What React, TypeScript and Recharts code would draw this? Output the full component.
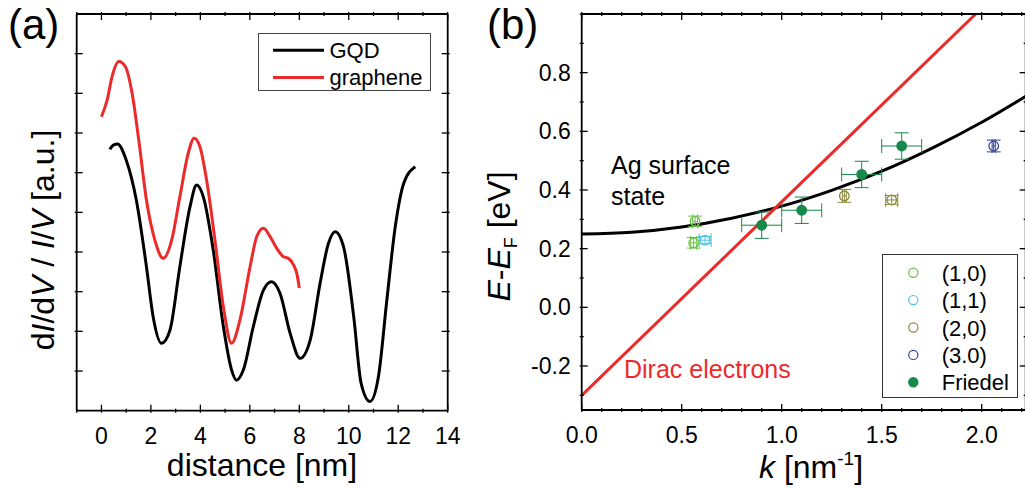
import React from "react";
import { LineChart, ComposedChart, Line, Scatter, XAxis, YAxis, ErrorBar, Legend } from "recharts";

const FONT = "'Liberation Sans', Arial, Helvetica, sans-serif";
const RED = "#ec2a2a";

// (a) dI/dV / I/V profiles
const gqdDistance = [0.34, 0.5, 0.65, 1.0, 1.41, 1.82, 2.09, 2.43, 2.77, 3.17, 3.58, 3.85, 4.12, 4.52, 4.93, 5.26, 5.46, 5.74, 6.14, 6.55, 6.88, 7.22, 7.63, 8.03, 8.44, 8.84, 9.18, 9.45, 9.79, 10.2, 10.5, 10.86, 11.2, 11.54, 11.88, 12.22, 12.69];
const gqdSignal = [6.59, 6.7, 6.72, 6.32, 5.31, 3.63, 2.37, 1.7, 2.03, 3.63, 5.14, 5.69, 5.39, 4.05, 2.12, 1.03, 0.77, 1.03, 2.12, 3.04, 3.25, 2.96, 1.95, 1.32, 1.78, 3.21, 4.22, 4.51, 4.13, 2.37, 0.69, 0.23, 0.86, 2.79, 4.64, 5.73, 6.15];
const grapheneDistance = [0, 0.23, 0.43, 0.7, 0.97, 1.24, 1.51, 1.82, 2.16, 2.5, 2.84, 3.17, 3.51, 3.75, 3.98, 4.25, 4.59, 4.93, 5.26, 5.6, 6.01, 6.28, 6.55, 6.82, 7.09, 7.36, 7.56, 7.77, 7.9, 8.0];
const grapheneSignal = [7.41, 7.83, 8.42, 8.8, 8.67, 8.0, 6.82, 5.31, 4.3, 3.84, 4.3, 5.39, 6.49, 6.87, 6.66, 5.82, 4.3, 2.62, 1.7, 2.29, 3.63, 4.39, 4.6, 4.39, 4.09, 3.88, 3.84, 3.67, 3.46, 3.09];

const distanceTicks = [-1, 0, 1, 2, 3, 4, 5, 6, 7, 8, 9, 10, 11, 12, 13, 14];
const distanceLabels = [0, 2, 4, 6, 8, 10, 12, 14];
const signalTicks = [1, 2, 3, 4, 5, 6, 7, 8, 9];

// (b) dispersion
const agK = [0, 0.25, 0.5, 0.75, 1.0, 1.25, 1.5, 1.75, 2.0, 2.25];
const agEnergy = [0.25, 0.256, 0.274, 0.304, 0.345, 0.399, 0.464, 0.542, 0.631, 0.732];
const diracK = [0, 1.97];
const diracEnergy = [-0.3, 1.0];

const order10K = [0.567, 0.56];
const order10E = [0.293, 0.22];
const order10Dk = [0.012, 0.015];
const order10De = [0.018, 0.018];
const order11K = [0.617];
const order11E = [0.229];
const order11Dk = [0.03];
const order11De = [0.012];
const order20K = [1.313, 1.55];
const order20E = [0.38, 0.366];
const order20Dk = [0.01, 0.03];
const order20De = [0.022, 0.015];
const order30K = [2.06];
const order30E = [0.55];
const order30Dk = [0.008];
const order30De = [0.02];
const friedelK = [0.9, 1.1, 1.4, 1.6];
const friedelE = [0.28, 0.331, 0.453, 0.55];
const friedelDk = [0.1, 0.1, 0.1, 0.1];
const friedelDe = [0.045, 0.045, 0.045, 0.045];

const kTicks = [0, 0.1, 0.2, 0.3, 0.4, 0.5, 0.6, 0.7, 0.8, 0.9, 1.0, 1.1, 1.2, 1.3, 1.4, 1.5, 1.6, 1.7, 1.8, 1.9, 2.0, 2.1, 2.2];
const kLabels = [0, 0.5, 1.0, 1.5, 2.0];
const energyTicks = [-0.3, -0.2, -0.1, 0, 0.1, 0.2, 0.3, 0.4, 0.5, 0.6, 0.7, 0.8, 0.9, 1.0];
const energyMajors = [-0.2, 0, 0.2, 0.4, 0.6, 0.8, 1.0];
const energyLabels = [-0.2, 0, 0.2, 0.4, 0.6, 0.8];

const gqdData = gqdDistance.map((d, i) => ({ d, v: gqdSignal[i] }));
const grapheneData = grapheneDistance.map((d, i) => ({ d, v: grapheneSignal[i] }));
const agData = agK.map((k, i) => ({ k, e: agEnergy[i] }));
const diracData = diracK.map((k, i) => ({ k, e: diracEnergy[i] }));

const toPoints = (k: number[], e: number[], dk: number[], de: number[]) =>
    k.map((kk, i) => ({ k: kk, e: e[i], dk: dk[i], de: de[i] }));

const orderSeries = [
    { name: "(1,0)", color: "#6cbf47", filled: false, data: toPoints(order10K, order10E, order10Dk, order10De) },
    { name: "(1,1)", color: "#45c3e6", filled: false, data: toPoints(order11K, order11E, order11Dk, order11De) },
    { name: "(2,0)", color: "#8b8a3a", filled: false, data: toPoints(order20K, order20E, order20Dk, order20De) },
    { name: "(3.0)", color: "#35449a", filled: false, data: toPoints(order30K, order30E, order30Dk, order30De) },
    { name: "Friedel", color: "#17894a", filled: true, data: toPoints(friedelK, friedelE, friedelDk, friedelDe) },
];

const has = (list: number[], v: number) => list.some((m) => Math.abs(m - v) < 1e-6);
const frame = { stroke: "#000", strokeWidth: 1.8 };

// ticks point into the plot, labels sit outside
function makeTick(side: string, majors: number[], labels: number[], digits: number) {
    return (props: any) => {
        const { x, y, payload } = props;
        const v = payload.value;
        const len = has(majors, v) ? 8 : 4;
        let x2 = x;
        let y2 = y;
        if (side === "bottom") y2 = y - len;
        if (side === "top") y2 = y + len;
        if (side === "left") x2 = x + len;
        if (side === "right") x2 = x - len;
        const label = has(labels, v);
        return (
            <g>
                <line x1={x} y1={y} x2={x2} y2={y2} stroke="#000" strokeWidth={1.3} />
                {label && side === "bottom" && (
                    <text x={x} y={y + 31} textAnchor="middle" fontSize={23} fontFamily={FONT} fill="#000">
                        {v.toFixed(digits)}
                    </text>
                )}
                {label && side === "left" && (
                    <text x={x - 9} y={y + 8} textAnchor="end" fontSize={23} fontFamily={FONT} fill="#000">
                        {v.toFixed(digits)}
                    </text>
                )}
            </g>
        );
    };
}

function LegendA() {
    const rows = [
        { name: "GQD", color: "#000" },
        { name: "graphene", color: RED },
    ];
    return (
        <svg width={173} height={58} style={{ display: "block" }}>
            <rect x={0.5} y={0.5} width={172} height={57} fill="#fff" stroke="#444" />
            {rows.map((r, i) => (
                <g key={r.name}>
                    <line x1={15} x2={66} y1={17.3 + i * 27.3} y2={17.3 + i * 27.3} stroke={r.color} strokeWidth={3} />
                    <text x={71.5} y={25 + i * 27.3} fontSize={22} fontFamily={FONT} fill="#000">
                        {r.name}
                    </text>
                </g>
            ))}
        </svg>
    );
}

function LegendB() {
    return (
        <svg width={136} height={144} style={{ display: "block" }}>
            <rect x={0.5} y={0.5} width={135} height={143} fill="#fff" stroke="#333" />
            {orderSeries.map((s, i) => (
                <g key={s.name}>
                    <circle
                        cx={31.3}
                        cy={18.7 + i * 27.4}
                        r={4.6}
                        fill={s.filled ? s.color : "none"}
                        stroke={s.color}
                        strokeWidth={1.2}
                    />
                    <text x={59.7} y={26.7 + i * 27.4} fontSize={22} fontFamily={FONT} fill="#000">
                        {s.name}
                    </text>
                </g>
            ))}
        </svg>
    );
}

function PanelA() {
    return (
        <LineChart width={470} height={488} margin={{ top: 13, right: 21.3, bottom: 37.3, left: 16.7 }}>
            <XAxis xAxisId="b" type="number" dataKey="d" domain={[-1, 14]} ticks={distanceTicks} interval={0}
                allowDataOverflow height={40} tickSize={0} tickLine={false} axisLine={frame}
                tick={makeTick("bottom", distanceLabels, distanceLabels, 0)} />
            <XAxis xAxisId="t" orientation="top" type="number" dataKey="d" domain={[-1, 14]} ticks={distanceTicks}
                interval={0} allowDataOverflow height={1} tickSize={0} tickLine={false} axisLine={frame}
                tick={makeTick("top", distanceLabels, [], 0)} />
            <YAxis yAxisId="l" type="number" domain={[0, 10]} ticks={signalTicks} interval={0} allowDataOverflow
                width={60} tickSize={0} tickLine={false} axisLine={frame}
                tick={makeTick("left", signalTicks, [], 0)} />
            <YAxis yAxisId="r" orientation="right" type="number" domain={[0, 10]} ticks={signalTicks} interval={0}
                allowDataOverflow width={1} tickSize={0} tickLine={false} axisLine={frame}
                tick={makeTick("right", signalTicks, [], 0)} />
            <Line xAxisId="b" yAxisId="l" name="GQD" data={gqdData} dataKey="v" type="monotone" stroke="#000"
                strokeWidth={3} dot={false} isAnimationActive={false} />
            <Line xAxisId="b" yAxisId="l" name="graphene" data={grapheneData} dataKey="v" type="monotone"
                stroke={RED} strokeWidth={3} dot={false} isAnimationActive={false} />
            <Legend layout="horizontal" verticalAlign="middle" align="center" content={() => <LegendA />}
                wrapperStyle={{ left: 257.7, top: 32.7, width: 173, height: 58 }} />
        </LineChart>
    );
}

function PanelB() {
    return (
        <ComposedChart width={570} height={488} margin={{ top: 13, right: 23.3, bottom: 38, left: 21.7 }}>
            <XAxis xAxisId="b" type="number" dataKey="k" domain={[0, 2.22]} ticks={kTicks} interval={0}
                allowDataOverflow height={40} tickSize={0} tickLine={false} axisLine={frame}
                tick={makeTick("bottom", kLabels, kLabels, 1)} />
            <XAxis xAxisId="t" orientation="top" type="number" dataKey="k" domain={[0, 2.22]} ticks={kTicks}
                interval={0} allowDataOverflow height={1} tickSize={0} tickLine={false} axisLine={frame}
                tick={makeTick("top", kLabels, [], 1)} />
            <YAxis yAxisId="l" type="number" dataKey="e" domain={[-0.35, 1.0]} ticks={energyTicks} interval={0}
                allowDataOverflow width={80} tickSize={0} tickLine={false} axisLine={frame}
                tick={makeTick("left", energyMajors, energyLabels, 1)} />
            <YAxis yAxisId="r" orientation="right" type="number" dataKey="e" domain={[-0.35, 1.0]} ticks={energyTicks}
                interval={0} allowDataOverflow width={1} tickSize={0} tickLine={false} axisLine={frame}
                tick={makeTick("right", energyMajors, [], 1)} />
            <Line xAxisId="b" yAxisId="l" name="Ag surface state" data={agData} dataKey="e" type="monotone"
                stroke="#000" strokeWidth={3} dot={false} isAnimationActive={false} />
            <Line xAxisId="b" yAxisId="l" name="Dirac electrons" data={diracData} dataKey="e" type="linear"
                stroke={RED} strokeWidth={3} dot={false} isAnimationActive={false} />
            {orderSeries.map((s) => (
                <Scatter key={s.name} xAxisId="b" yAxisId="l" name={s.name} data={s.data} dataKey="e"
                    fill={s.color} isAnimationActive={false}
                    shape={(p: any) => (
                        <circle cx={p.cx} cy={p.cy} r={4.8} fill={s.filled ? s.color : "none"} stroke={s.color}
                            strokeWidth={1.3} />
                    )}>
                    <ErrorBar dataKey="dk" direction="x" width={7} stroke={s.color} strokeWidth={1} />
                    <ErrorBar dataKey="de" direction="y" width={7} stroke={s.color} strokeWidth={1} />
                </Scatter>
            ))}
            <Legend layout="horizontal" verticalAlign="middle" align="center" content={() => <LegendB />}
                wrapperStyle={{ left: 402, top: 254, width: 136, height: 144 }} />
        </ComposedChart>
    );
}

function Texts() {
    const t = { fontFamily: FONT, fill: "#000" };
    return (
        <svg width={1025} height={488} style={{ position: "absolute", left: 0, top: 0, pointerEvents: "none" }}>
            <text x={8} y={39} fontSize={42} {...t}>(a)</text>
            <text x={487} y={39} fontSize={42} {...t}>(b)</text>
            <text x={262} y={476} fontSize={32} textAnchor="middle" {...t}>distance [nm]</text>
            <text x={53.5} y={240} fontSize={32} textAnchor="middle" transform="rotate(-90 53.5 240)" {...t}>
                d<tspan fontStyle="italic">I</tspan>/d<tspan fontStyle="italic">V</tspan> / <tspan fontStyle="italic">I</tspan>/<tspan fontStyle="italic">V</tspan> [a.u.]
            </text>
            <text x={811} y={478} fontSize={32} textAnchor="middle" {...t}>
                <tspan fontStyle="italic">k</tspan> [nm<tspan fontSize={19} dy={-13}>-1</tspan><tspan dy={13}>]</tspan>
            </text>
            <text x={510} y={236.5} fontSize={32} textAnchor="middle" transform="rotate(-90 510 236.5)" {...t}>
                <tspan fontStyle="italic">E</tspan>-<tspan fontStyle="italic">E</tspan><tspan fontSize={18} dy={7}>F</tspan><tspan dy={-7}> [eV]</tspan>
            </text>
            <text x={611} y={174} fontSize={25} {...t}>Ag surface</text>
            <text x={611} y={205} fontSize={25} {...t}>state</text>
            <text x={624} y={378} fontSize={25} fontFamily={FONT} fill={RED}>Dirac electrons</text>
        </svg>
    );
}

export default function App() {
    return (
        <div style={{ position: "absolute", left: 0, top: 0, width: 1025, height: 488, overflow: "hidden", background: "#fff" }}>
            <div style={{ position: "absolute", left: 0, top: 0 }}>
                <PanelA />
            </div>
            <div style={{ position: "absolute", left: 480, top: 0 }}>
                <PanelB />
            </div>
            <Texts />
        </div>
    );
}
